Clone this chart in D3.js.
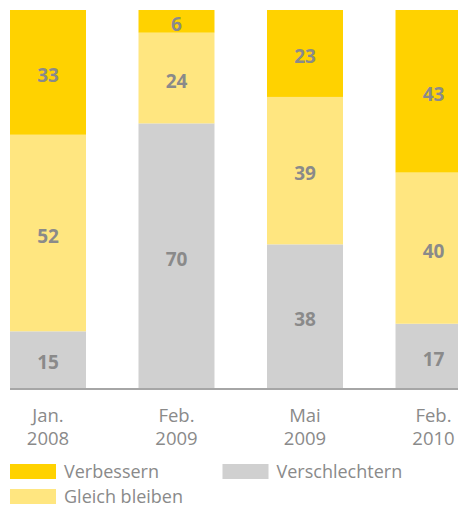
<!DOCTYPE html>
<html>
<head>
<meta charset="utf-8">
<script src="https://cdn.jsdelivr.net/npm/d3@7"></script>
<style>
  body { margin: 0; background: #fff; }
  svg { display: block; }
  text { font-family: "Open Sans", sans-serif; }
</style>
</head>
<body>
<div id="chart"></div>
<script>
// data
var monate = ["Jan.", "Feb.", "Mai", "Feb."];
var jahre = ["2008", "2009", "2009", "2010"];
var verschlechtern = [15, 70, 38, 17];
var gleichBleiben = [52, 24, 39, 40];
var verbessern = [33, 6, 23, 43];

var serien = ["verschlechtern", "gleich", "verbessern"];
var serienNamen = { verbessern: "Verbessern", gleich: "Gleich bleiben", verschlechtern: "Verschlechtern" };
var farben = { verbessern: "#ffd200", gleich: "#ffe680", verschlechtern: "#d0d0d0" };

var width = 458, height = 506;
var top0 = 10, base = 388;

// one row per column for the stack
var rows = monate.map(function(m, i) {
  return { key: i, verschlechtern: verschlechtern[i], gleich: gleichBleiben[i], verbessern: verbessern[i] };
});

var svg = d3.select("#chart").append("svg")
            .attr("width", width)
            .attr("height", height);

var x = d3.scaleBand()
          .domain(rows.map(function(d){ return d.key; }))
          .range([10, 471.5])
          .paddingInner(0.4086)
          .paddingOuter(0);

var y = d3.scaleLinear()
          .domain([0, 100])
          .range([base, top0]);

var stack = d3.stack().keys(serien);
var layers = stack(rows);

var g = svg.append("g");

layers.forEach(function(layer) {
  var key = layer.key;
  g.selectAll("rect." + key)
   .data(layer)
   .enter()
   .append("rect")
   .attr("class", key)
   .attr("x", function(d){ return x(d.data.key); })
   .attr("y", function(d){ return y(d[1]); })
   .attr("width", x.bandwidth())
   .attr("height", function(d){ return y(d[0]) - y(d[1]); })
   .style("fill", farben[key]);

  // value labels, a bit under the middle like the original
  g.selectAll("text." + key)
   .data(layer)
   .enter()
   .append("text")
   .attr("class", key)
   .attr("x", function(d){ return x(d.data.key) + x.bandwidth() / 2; })
   .attr("y", function(d){ return (y(d[0]) + y(d[1])) / 2 + 3; })
   .attr("dy", "0.36em")
   .attr("text-anchor", "middle")
   .attr("font-size", "19px")
   .attr("font-weight", "bold")
   .style("fill", "#8a8a8a")
   .text(function(d){ return d[1] - d[0]; });
});

// base line
svg.append("line")
   .attr("x1", 10)
   .attr("x2", width)
   .attr("y1", base + 1)
   .attr("y2", base + 1)
   .attr("stroke", "#a6a6a6")
   .attr("stroke-width", 2);

// category labels, two lines each
var cat = svg.selectAll("text.cat")
   .data(rows)
   .enter()
   .append("text")
   .attr("class", "cat")
   .attr("text-anchor", "middle")
   .attr("font-size", "18.5px")
   .style("fill", "#8a8a8a");

cat.append("tspan")
   .attr("x", function(d){ return x(d.key) + x.bandwidth() / 2; })
   .attr("y", 422)
   .text(function(d){ return monate[d.key]; });

cat.append("tspan")
   .attr("x", function(d){ return x(d.key) + x.bandwidth() / 2; })
   .attr("y", 445)
   .text(function(d){ return jahre[d.key]; });

// legend
var legende = [
  { key: "verbessern", lx: 10, ly: 464 },
  { key: "verschlechtern", lx: 222.5, ly: 464 },
  { key: "gleich", lx: 10, ly: 489 }
];

var lg = svg.selectAll("g.legend")
   .data(legende)
   .enter()
   .append("g")
   .attr("class", "legend")
   .attr("transform", function(d){ return "translate(" + d.lx + "," + d.ly + ")"; });

lg.append("rect")
  .attr("width", 46)
  .attr("height", 15)
  .style("fill", function(d){ return farben[d.key]; });

lg.append("text")
  .attr("x", 54)
  .attr("y", 14)
  .attr("font-size", "18px")
  .style("fill", "#8a8a8a")
  .text(function(d){ return serienNamen[d.key]; });
</script>
</body>
</html>
